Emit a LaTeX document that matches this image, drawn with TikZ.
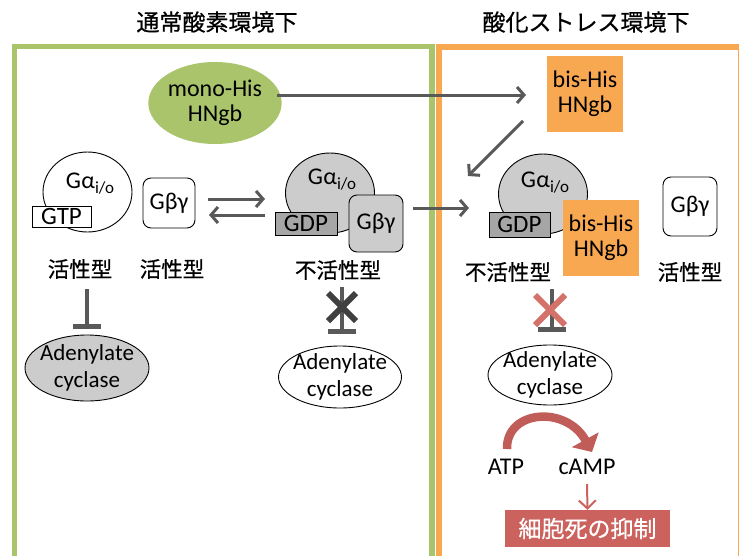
\documentclass[tikz,border=0pt]{standalone}
\usepackage{fontspec}
\setmainfont{Carlito}
\newfontfamily\jp[FakeBold=0.6]{Noto Sans CJK JP}
\usetikzlibrary{shapes.geometric,arrows.meta}
\definecolor{grn}{HTML}{A9C46B}
\definecolor{org}{HTML}{F9A852}
\definecolor{arr}{HTML}{595959}
\definecolor{lg}{HTML}{CCCCCC}
\definecolor{dg}{HTML}{A6A6A6}
\definecolor{rd}{HTML}{CB625D}
\definecolor{rx}{HTML}{D4726A}
\definecolor{xk}{HTML}{404040}
\newcommand{\galpha}{G\kern0.5pt α\raisebox{-5pt}{\fontsize{17}{17}\selectfont i/o}}
\tikzset{
 lat/.style={font=\fontsize{24}{25}\selectfont, align=center, inner sep=0pt},
 jpt/.style={font=\jp\fontsize{21.5}{22}\selectfont, inner sep=0pt},
 ttl/.style={font=\jp\fontsize{23}{24}\selectfont, inner sep=0pt},
 garr/.style={draw=arr, line width=3pt, -{Straight Barb[length=7pt,width=16pt]}},
 galpha/.style={ellipse, draw=black, line width=0.9pt, inner sep=0pt, minimum width=89pt, minimum height=80pt},
 acyc/.style={ellipse, draw=black, line width=0.9pt, inner xsep=-20pt, inner ysep=-14pt, align=center, font=\fontsize{23}{27}\selectfont},
 nbox/.style={rectangle, draw=black, line width=0.9pt, inner sep=0pt, font=\fontsize{25}{25}\selectfont},
 gbg/.style={rectangle, rounded corners=8pt, draw=black, line width=0.9pt, inner sep=0pt, font=\fontsize{24}{25}\selectfont},
 inhib/.style={draw=arr, line width=4pt, -{Bar[width=28pt,line width=5pt]}},
 xmark/.style={line width=6pt},
}
\begin{document}
\begin{tikzpicture}[x=1pt,y=-1pt]
\useasboundingbox (0,0) rectangle (739,555);
\clip (0,0) rectangle (739,555);
% frames
\draw[grn, line width=5.5pt] (14.5,46.5) rectangle (432,620);
\draw[org, line width=6pt] (439,47) rectangle (741,620);
% titles
\node[ttl] (t1) at (217,22) {通常酸素環境下};
\node[ttl] (t2) at (586,22) {酸化ストレス環境下};
% HNgb
\node[ellipse, fill=grn, inner sep=0pt, minimum width=106pt, minimum height=82pt, lat, font=\fontsize{24}{25}\selectfont] (mono) at (215,103) {mono-His\\HNgb};
\node[rectangle, fill=org, minimum width=76pt, minimum height=76pt, lat, font=\fontsize{24}{25}\selectfont] (bis1) at (585,94) {bis-His\\HNgb};
\coordinate (m1) at (277,95);
\coordinate (m2) at (526,95);
\draw[garr] (m1) -- (m2);
\coordinate (d1) at (523,121);
\coordinate (d2) at (468,176);
\draw[garr] (d1) -- (d2);
% left panel
\node[galpha, fill=white] (ga1) at (87.5,192) {};
\node[lat] (ga1t) at (90,184) {\galpha};
\node[nbox, fill=white, minimum width=59pt, minimum height=21pt] (gtp) at (61.5,216.5) {GTP};
\node[gbg, fill=white, minimum width=52pt, minimum height=50pt] (gb1) at (169,203) {Gβγ};
\node[jpt] (act1) at (80,269) {活性型};
\node[jpt] (act2) at (172,269) {活性型};
\node[acyc, fill=lg, minimum width=124pt, minimum height=66pt] (ac1) at (87,368) {Adenylate\\cyclase};
\coordinate (i1a) at (87,289);
\coordinate (i1b) at (87,329);
\draw[inhib] (i1a) -- (i1b);
% exchange arrows
\coordinate (e1) at (208,199);
\coordinate (e2) at (265,199);
\coordinate (e3) at (265,215);
\coordinate (e4) at (209,215);
\draw[draw=arr, line width=3pt, -{Straight Barb[length=7pt,width=16pt]}] (e1) -- (e2);
\draw[draw=arr, line width=3pt, -{Straight Barb[length=7pt,width=16pt]}] (e3) -- (e4);
% middle panel
\node[galpha, fill=lg] (ga2) at (330,193) {};
\node[lat] (ga2t) at (332,180) {\galpha};
\node[nbox, fill=dg, minimum width=62pt, minimum height=23pt] (gdp2) at (306,223.5) {GDP};
\node[gbg, fill=lg, minimum width=54pt, minimum height=57pt] (gb2) at (376,223.5) {Gβγ};
\node[jpt] (ina2) at (338,270) {不活性型};
\node[acyc, fill=white, minimum width=123pt, minimum height=62pt] (ac2) at (340,377) {Adenylate\\cyclase};
\coordinate (i2a) at (342,287);
\coordinate (i2b) at (342,334);
\draw[inhib] (i2a) -- (i2b);
\draw[xk, xmark] (328,293) -- (356,321);
\draw[xk, xmark] (356,293) -- (328,321);
\coordinate (r1) at (413,208);
\coordinate (r2) at (469,208);
\draw[garr] (r1) -- (r2);
% right panel
\node[galpha, fill=lg] (ga3) at (543,194) {};
\node[lat] (ga3t) at (545,183) {\galpha};
\node[nbox, fill=dg, minimum width=61pt, minimum height=25pt] (gdp3) at (519.5,224.5) {GDP};
\node[rectangle, fill=org, minimum width=76pt, minimum height=76pt, lat, font=\fontsize{24}{25}\selectfont] (bis2) at (601,238) {bis-His\\HNgb};
\node[gbg, fill=white, minimum width=54pt, minimum height=59pt] (gb3) at (690,206.5) {Gβγ};
\node[jpt] (ina3) at (508,272) {不活性型};
\node[jpt] (act3) at (690,272) {活性型};
\node[acyc, fill=white, minimum width=124pt, minimum height=60pt] (ac3) at (550,375) {Adenylate\\cyclase};
\coordinate (i3a) at (552,289);
\coordinate (i3b) at (552,332);
\draw[inhib] (i3a) -- (i3b);
\draw[rx, xmark] (535,295) -- (565,325);
\draw[rx, xmark] (565,295) -- (535,325);
% ATP -> cAMP
\node[lat] (atp) at (506,467) {ATP};
\node[lat] (camp) at (587,467) {cAMP};
\coordinate (c1) at (507,449);
\coordinate (c2) at (592,452);
\draw[draw=rd!95!black, line width=8.5pt, -{Triangle[length=14pt,width=30pt]}] (c1) .. controls (506,410) and (566,405) .. (c2);
\node[rectangle, fill=rd, text=white, minimum width=165pt, minimum height=37pt, font=\jp\fontsize{23}{24}\selectfont, inner sep=0pt] (death) at (587.5,528.5) {細胞死の抑制};
\coordinate (k1) at (587,484);
\draw[draw=rd, line width=2pt, -{Straight Barb[length=8pt,width=17pt]}] (k1) -- (death.north);
\end{tikzpicture}
\end{document}
